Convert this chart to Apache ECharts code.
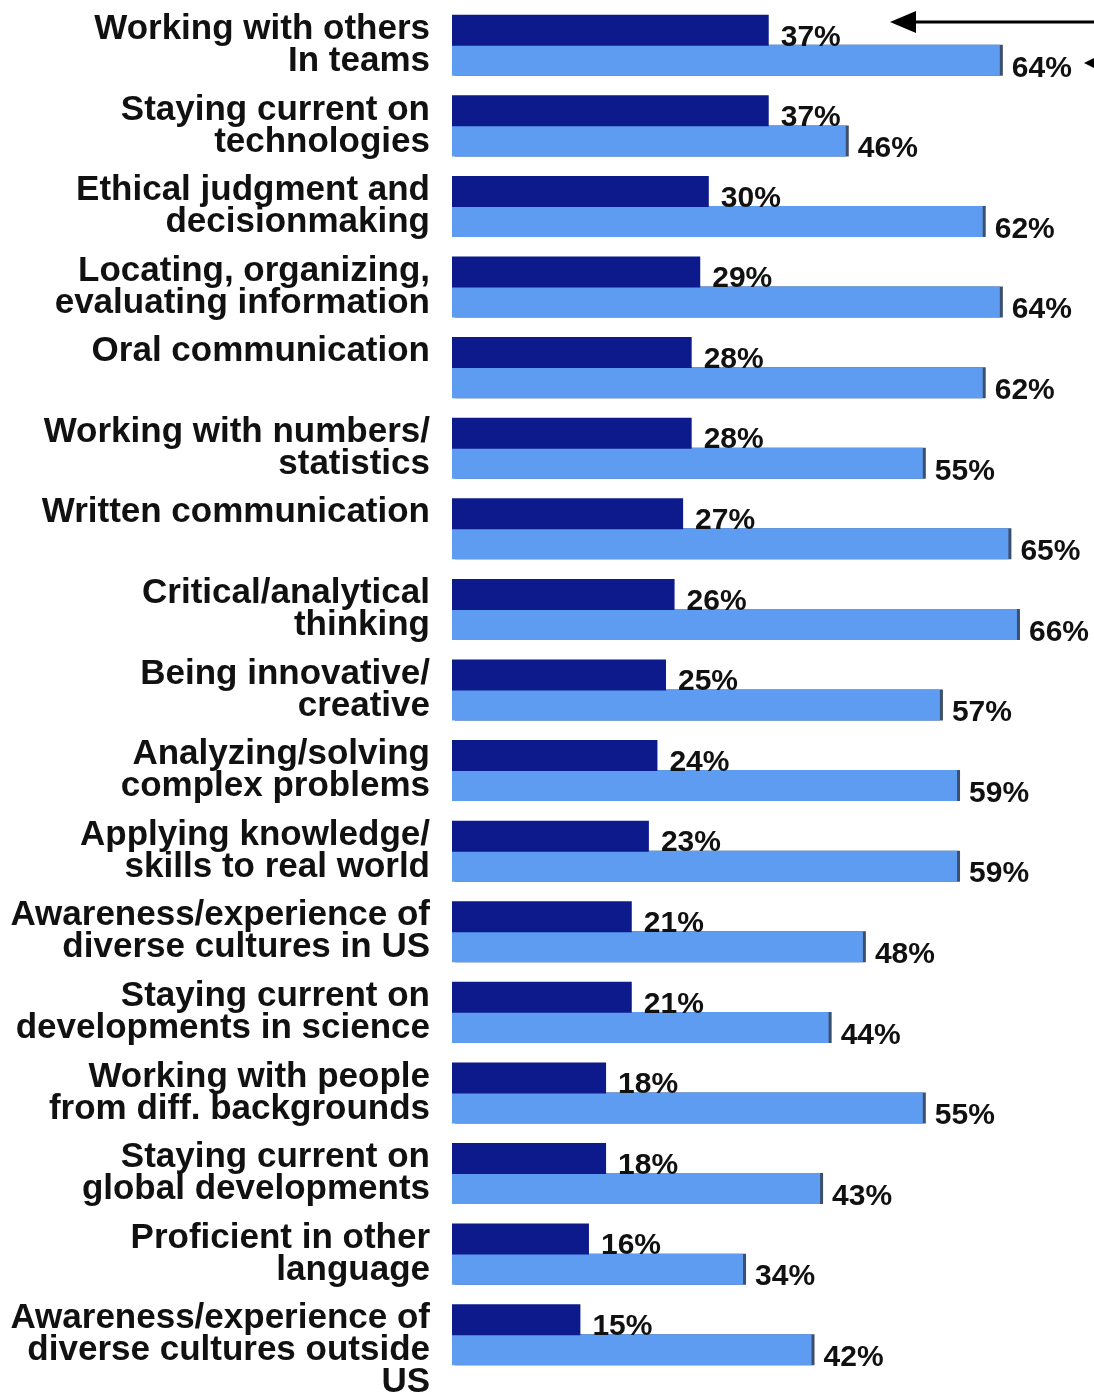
<!DOCTYPE html>
<html>
<head>
<meta charset="utf-8">
<script src="https://cdn.jsdelivr.net/npm/echarts@6/dist/echarts.min.js"></script>
<style>
  html, body { margin: 0; padding: 0; background: #ffffff; }
  #chart { width: 1094px; height: 1393px; }
</style>
</head>
<body>
<div id="chart"></div>
<script>
// category labels, top to bottom
var categories = [
  'Working with others\nIn teams',
  'Staying current on\ntechnologies',
  'Ethical judgment and\ndecisionmaking',
  'Locating, organizing,\nevaluating information',
  'Oral communication',
  'Working with numbers/\nstatistics',
  'Written communication',
  'Critical/analytical\nthinking',
  'Being innovative/\ncreative',
  'Analyzing/solving\ncomplex problems',
  'Applying knowledge/\nskills to real world',
  'Awareness/experience of\ndiverse cultures in US',
  'Staying current on\ndevelopments in science',
  'Working with people\nfrom diff. backgrounds',
  'Staying current on\nglobal developments',
  'Proficient in other\nlanguage',
  'Awareness/experience of\ndiverse cultures outside\nUS'
];

// dark bars (top of each pair)
var darkValues = [37, 37, 30, 29, 28, 28, 27, 26, 25, 24, 23, 21, 21, 18, 18, 16, 15];
// light bars (bottom of each pair)
var lightValues = [64, 46, 62, 64, 62, 55, 65, 66, 57, 59, 59, 48, 44, 55, 43, 34, 42];

var myChart = echarts.init(document.getElementById('chart'));

var fontFamily = '"Liberation Sans", Arial, sans-serif';

var option = {
  backgroundColor: '#ffffff',
  animation: false,
  grid: {
    top: 5,
    bottom: 18,
    left: 452,
    right: 0,
    containLabel: false,
    outerBoundsMode: 'none'
  },
  xAxis: {
    type: 'value',
    min: 0,
    max: 75,
    show: false
  },
  yAxis: {
    type: 'category',
    inverse: true,
    data: categories,
    axisLine: { show: false },
    axisTick: { show: false },
    splitLine: { show: false },
    axisLabel: {
      interval: 0,
      showMinLabel: true,
      showMaxLabel: true,
      hideOverlap: false,
      margin: 22,
      align: 'right',
      fontSize: 35,
      lineHeight: 32,
      fontFamily: fontFamily,
      fontWeight: 'bold',
      color: '#111111',
      // first text line sits near the top of each group
      formatter: function (value) {
        var n = value.split('\n').length;
        if (n === 1) return value + '\n ';
        if (n === 3) return ' \n' + value;
        return value;
      }
    }
  },
  series: [
    {
      type: 'bar',
      name: 'dark',
      data: darkValues,
      barWidth: 31,
      barGap: '-3%',
      itemStyle: { color: '#0c1a8c' },
      label: {
        show: true,
        position: 'right',
        distance: 12,
        offset: [0, 7],
        formatter: '{c}%',
        fontSize: 30,
        fontFamily: fontFamily,
        fontWeight: 'bold',
        color: '#111111'
      },
      z: 3
    },
    {
      type: 'bar',
      name: 'light',
      data: lightValues,
      barWidth: 31,
      itemStyle: {
        color: '#5e9cf2',
        shadowColor: '#3d4f6e',
        shadowOffsetX: 3,
        shadowOffsetY: 0,
        shadowBlur: 0
      },
      label: {
        show: true,
        position: 'right',
        distance: 12,
        offset: [0, 8],
        formatter: '{c}%',
        fontSize: 30,
        fontFamily: fontFamily,
        fontWeight: 'bold',
        color: '#111111'
      },
      z: 2
    }
  ],
  // pointer arrows at the top right
  graphic: [
    {
      type: 'line',
      shape: { x1: 910, y1: 22, x2: 1094, y2: 22 },
      style: { stroke: '#000000', lineWidth: 3 }
    },
    {
      type: 'polygon',
      shape: { points: [[890, 22], [916, 11], [916, 33]] },
      style: { fill: '#000000' }
    },
    {
      type: 'polygon',
      shape: { points: [[1084, 63], [1096, 57], [1096, 69]] },
      style: { fill: '#000000' }
    }
  ]
};

myChart.setOption(option);
</script>
</body>
</html>
